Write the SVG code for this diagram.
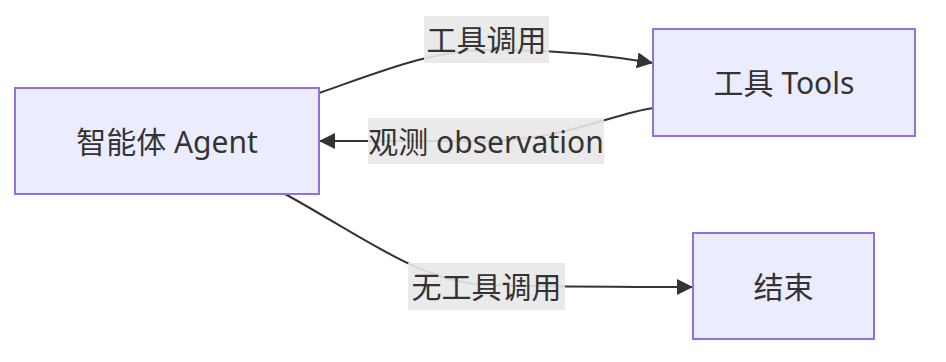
<svg xmlns="http://www.w3.org/2000/svg" width="946" height="362" viewBox="0 0 946 362">
<defs>
<marker id="arrow" viewBox="0 0 10 10" refX="10" refY="5" markerWidth="16" markerHeight="16" markerUnits="userSpaceOnUse" orient="auto">
<path d="M0,0 L10,5 L0,10 z" fill="#333"/>
</marker>
<style>
.node rect{fill:#ECECFF;stroke:#9370DB;stroke-width:2}
.node text{fill:#333;font-family:"Noto Sans","Noto Sans CJK SC",sans-serif;font-size:30px;text-anchor:middle;dominant-baseline:central}
.edge path{fill:none;stroke:#333;stroke-width:2}
.label rect{fill:#e8e8e8;opacity:0.9}
.label text{fill:#333;font-family:"Noto Sans","Noto Sans CJK SC",sans-serif;font-size:30px;text-anchor:middle;dominant-baseline:central}
</style>
</defs>
<rect width="946" height="362" fill="#fff"/>
<g id="edges">
<g class="edge"><path d="M319,93 C385,70 430,51 486,50 C540,49 600,54 653,63" marker-end="url(#arrow)"/></g>
<g class="edge"><path d="M653,108 C612,114 560,141 486,141 L319,141" marker-end="url(#arrow)"/></g>
<g class="edge"><path d="M285,194 C360,235 420,282 486,285 C560,287 620,287 693,287" marker-end="url(#arrow)"/></g>
<g class="label"><rect x="424" y="16" width="125" height="47"/><text x="486.5" y="39.5">工具调用</text></g>
<g class="label"><rect x="368" y="118" width="236" height="46"/><text x="486" y="141">观测 observation</text></g>
<g class="label"><rect x="408" y="263" width="157" height="47"/><text x="486.5" y="286.5">无工具调用</text></g>
</g>
<g id="agent" class="node"><rect x="15" y="88" width="304" height="106"/><text x="167" y="141">智能体 Agent</text></g>
<g id="tools" class="node"><rect x="653" y="29" width="262" height="107"/><text x="784" y="82">工具 Tools</text></g>
<g id="end" class="node"><rect x="693" y="233" width="181" height="106"/><text x="783.5" y="286">结束</text></g>
</svg>
